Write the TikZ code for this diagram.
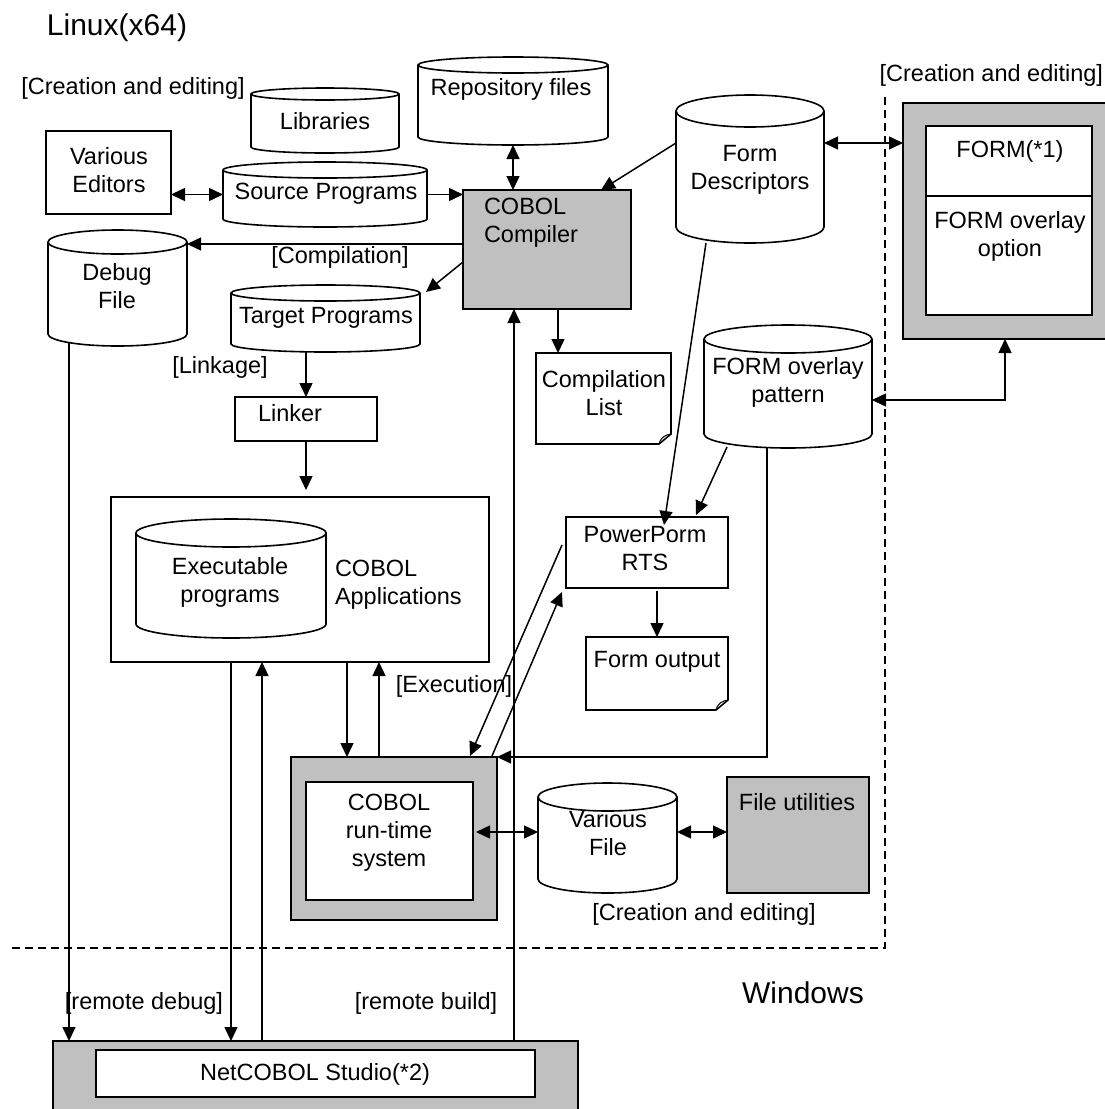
\documentclass[tikz,border=0pt]{standalone}
\usepackage{fontspec}
\setmainfont{Liberation Sans}
\usetikzlibrary{arrows.meta,calc}
\definecolor{boxgray}{RGB}{192,192,192}

\newcommand\mkbox[6]{%
  \node[#6, minimum width={(#4-#2)*1pt}, minimum height={(#5-#3)*1pt}] (#1) at ({(#2+#4)/2},{(#3+#5)/2}) {};}
\newcommand\mkcyl[6]{%
  \pgfmathsetmacro\cylrx{(#4-#2)/2}%
  \draw[line width=1.6pt, fill=white] (#2,#3+#6) -- (#2,#5-#6) arc[start angle=180,end angle=360,x radius=\cylrx pt,y radius=#6pt] -- (#4,#3+#6) arc[start angle=0,end angle=180,x radius=\cylrx pt,y radius=#6pt] -- cycle;
  \draw[line width=1.6pt] (#2,#3+#6) arc[start angle=180,end angle=360,x radius=\cylrx pt,y radius=#6pt];
  \node[minimum width={(#4-#2)*1pt}, minimum height={(#5-#3)*1pt}] (#1) at ({(#2+#4)/2},{(#3+#5)/2}) {};}
\newcommand\mkdoc[5]{%
  \draw[line width=1.6pt, fill=white] (#2,#3) -- (#4,#3) -- (#4,#5-10) -- (#4-12,#5) -- (#2,#5) -- cycle;
  \draw[line width=1pt] (#4-12,#5) .. controls (#4-10,#5-7) and (#4-6,#5-9) .. (#4,#5-10);
  \node[minimum width={(#4-#2)*1pt}, minimum height={(#5-#3)*1pt}] (#1) at ({(#2+#4)/2},{(#3+#5)/2}) {};}

\begin{document}
\begin{tikzpicture}[x=1pt,y=-1pt,
  every node/.style={inner sep=0pt, outer sep=0pt},
  txt/.style={font=\fontsize{23.5}{28}\selectfont, align=center, text=black},
  big/.style={font=\fontsize{30}{34}\selectfont},
  box/.style={draw, line width=1.6pt, fill=white},
  gbox/.style={draw, line width=1.6pt, fill=boxgray},
  conn/.style={line width=1.5pt},
  arr/.style={conn, -{Triangle[length=14pt,width=13pt]}},
  darr/.style={conn, {Triangle[length=14pt,width=13pt]}-{Triangle[length=14pt,width=13pt]}},
  sep/.style={line width=1.4pt, dash pattern=on 8pt off 5pt}
  ]
\useasboundingbox[fill=white] (0,0) rectangle (1104,1109);

% ---------- shapes ----------
\mkbox{editors}{46}{131}{171}{214}{box}
\mkcyl{libs}{251}{88}{399}{153}{6}
\mkcyl{repo}{418}{57}{608}{145}{8}
\mkcyl{src}{223}{162}{427}{227}{8}
\mkbox{comp}{463}{190}{631}{309}{gbox}
\mkcyl{formdesc}{676}{95}{824}{243}{16}
\mkbox{formbox}{903}{103}{1125}{339}{gbox}
\mkbox{formin}{926}{126}{1092}{315}{box}
\mkcyl{debug}{48}{230}{187}{346}{12}
\mkcyl{tgt}{231}{285}{420}{352}{8}
\mkdoc{clist}{536}{353}{671}{444}
\mkcyl{ovl}{704}{325}{872}{448}{14}
\mkbox{linker}{235}{397}{377}{441}{box}
\mkbox{apps}{111}{497}{489}{662}{box}
\mkcyl{exe}{136}{519}{326}{638}{14}
\mkbox{prts}{566}{517}{728}{588}{box}
\mkdoc{fout}{586}{637}{728}{710}
\mkbox{rtsout}{291}{757}{497}{920}{gbox}
\mkbox{rtsin}{306}{782}{473}{900}{box}
\mkcyl{vfile}{538}{783}{677}{893}{14}
\mkbox{futil}{727}{777}{869}{893}{gbox}
\mkbox{studio}{53}{1041}{578}{1125}{gbox}
\mkbox{studioin}{96}{1050}{535}{1097}{box}

\coordinate (fdiv) at (926,196);
\draw[conn] (fdiv) -- (fdiv -| formin.east);

% separators
\draw[sep] (885,97) -- (885,948) -- (8,948);

% ---------- texts ----------
\node[txt,big] (tlinux) at (117,28) {Linux(x64)};
\node[txt,big] (twin) at (803,993) {Windows};
\node[txt] (tce1) at (133,88) {[Creation and editing]};
\node[txt,anchor=east] (tce2) at (1103,75) {[Creation and editing]};
\node[txt] (tce3) at (704,914) {[Creation and editing]};
\node[txt] (tcomp) at (340,257) {[Compilation]};
\node[txt] (tlink) at (220,367) {[Linkage]};
\node[txt] (texec) at (454,686) {[Execution]};
\node[txt] (trdbg) at (144,1003) {[remote debug]};
\node[txt] (trbld) at (426,1003) {[remote build]};

\node[txt] (lEditors) at (109,170) {Various\\Editors};
\node[txt] (lLibs) at (325,121) {Libraries};
\node[txt] (lRepo) at (511,89) {Repository files};
\node[txt] (lSrc) at (326,194) {Source Programs};
\node[txt,align=left,anchor=west] (lComp) at (484,223) {COBOL\\Compiler};
\node[txt] (lFd) at (750,170) {Form\\Descriptors};
\node[txt] (lForm1) at (1010,151) {FORM(*1)};
\node[txt] (lForm2) at (1010,236) {FORM overlay\\option};
\node[txt] (lDebug) at (117,286) {Debug\\File};
\node[txt] (lTgt) at (326,318) {Target Programs};
\node[txt] (lClist) at (604,393) {Compilation\\List};
\node[txt] (lOvl) at (788,382) {FORM overlay\\pattern};
\node[txt] (lLinker) at (290,413) {Linker};
\node[txt] (lExe) at (230,582) {Executable\\programs};
\node[txt,align=left,anchor=west] (lApps) at (335,585) {COBOL\\Applications};
\node[txt] (lPrts) at (645,549) {PowerPorm\\RTS};
\node[txt] (lFout) at (657,662) {Form output};
\node[txt] (lRts) at (389,833) {COBOL\\run-time\\system};
\node[txt] (lVfile) at (608,833) {Various\\File};
\node[txt] (lFutil) at (797,802) {File utilities};
\node[txt] (lStudio) at (315,1074) {NetCOBOL Studio(*2)};

% ---------- connectors ----------
\draw[darr] (editors.east |- src.west) -- (src.west);
\draw[arr] (src.east) -- (src.east -| comp.west);
\draw[darr] (repo.south) -- (repo.south |- comp.north);

\coordinate (fd1) at (676,143);
\coordinate (c1) at (601,190);
\draw[arr] (fd1) -- (c1);
\draw[darr] (fd1 -| formdesc.east) -- (fd1 -| formbox.west);

\coordinate (c2) at (463,244);
\draw[arr] (c2) -- (c2 -| debug.east);
\coordinate (c3) at (463,262);
\coordinate (t1) at (426,292);
\draw[arr] (c3) -- (t1);
\coordinate (c4) at (558,309);
\draw[arr] (c4) -- (c4 |- clist.north);

\draw[arr] (linker.north |- tgt.south) -- (linker.north);
\draw[arr, shorten >=7pt] (linker.south) -- (linker.south |- apps.north);

\coordinate (fd2) at (706,243);
\coordinate (p1) at (664,525);
\draw[arr] (fd2) -- (p1);
\coordinate (o1) at (727,447);
\coordinate (p2) at (696,515);
\draw[arr] (o1) -- (p2);
\draw[arr, shorten <=3pt] (fout.north |- prts.south) -- (fout.north);

\coordinate (o2) at (767,448);
\draw[arr] (o2) -- (o2 |- rtsout.north) -- (rtsout.north east);

\coordinate (f1) at (1005,400);
\draw[darr] (f1 -| ovl.east) -- (f1) -- (f1 |- formbox.south);

\coordinate (a1) at (347,662);
\draw[arr] (a1) -- (a1 |- rtsout.north);
\coordinate (a2) at (379,757);
\draw[arr] (a2) -- (a2 |- apps.south);
\coordinate (a3) at (231,662);
\draw[arr] (a3) -- (a3 |- studio.north);
\coordinate (a4) at (262,1041);
\draw[arr] (a4) -- (a4 |- apps.south);
\coordinate (s3) at (514,1041);
\draw[arr] (s3) -- (s3 |- comp.south);
\coordinate (d1) at (69,343);
\draw[arr] (d1) -- (d1 |- studio.north);

\coordinate (r1) at (476,832);
\draw[darr] (r1) -- (r1 -| vfile.west);
\draw[darr] (r1 -| vfile.east) -- (r1 -| futil.west);

\coordinate (p3) at (562,545);
\coordinate (r2) at (470,756);
\draw[arr] (p3) -- (r2);
\coordinate (r3) at (492,756);
\coordinate (p4) at (562,592);
\draw[arr] (r3) -- (p4);
\end{tikzpicture}
\end{document}
